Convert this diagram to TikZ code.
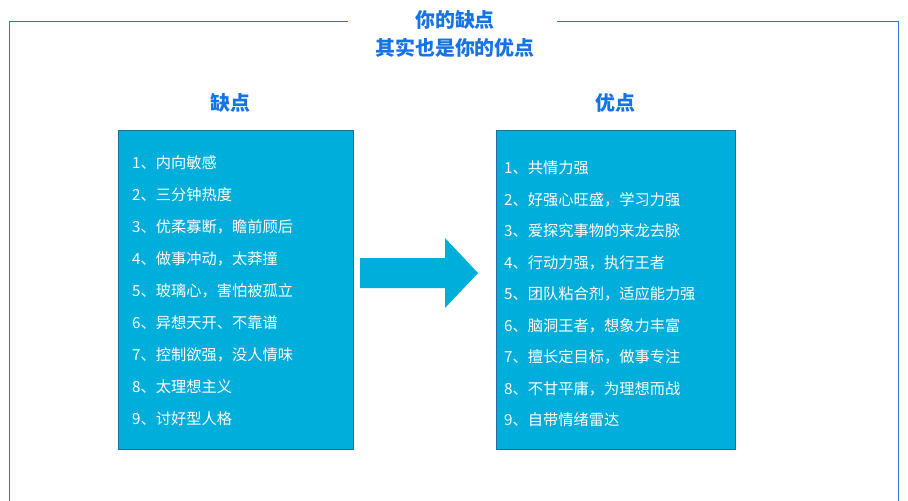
\documentclass[tikz,border=0pt]{standalone}
\usepackage{fontspec}
\setmainfont{Noto Sans CJK SC}
\usetikzlibrary{shapes.arrows}
\definecolor{frameblue}{HTML}{1E7BD6}
\definecolor{titleblue}{HTML}{1473E6}
\definecolor{boxcyan}{HTML}{00AEDB}
\definecolor{boxline}{HTML}{1A6FA0}
\begin{document}
\begin{tikzpicture}[x=0.03cm,y=-0.03cm]
\tikzset{
  headline/.style={text=titleblue,font=\fontsize{17}{20}\selectfont\bfseries},
  listbox/.style={fill=boxcyan,draw=boxline,line width=0.6pt},
  item/.style={text=white,anchor=west,inner sep=0pt,font=\fontsize{13}{15}\selectfont}
}
\useasboundingbox (0,0) rectangle (908,500);
% frame
\draw [frameblue,line width=0.8pt] (348,21) -- (9,21) -- (9,520);
\draw [frameblue,line width=0.8pt] (557,21) -- (898,21) -- (898,520);
\node [headline] (t1) at (455,20) {你的缺点};
\node [headline] (t2) at (455,48) {其实也是你的优点};
% headings
\node [headline] (hl) at (230,103) {缺点};
\node [headline] (hr) at (615,103) {优点};
% boxes
\draw [listbox] (118,130) rectangle (353,449);
\draw [listbox] (496,130) rectangle (735,449);
% arrow
\fill [boxcyan] (360,258) -- (445,258) -- (445,238) -- (478,273) -- (445,308) -- (445,288) -- (360,288) -- cycle;
% left list
\foreach \t [count=\i] in {内向敏感,三分钟热度,{优柔寡断，瞻前顾后},{做事冲动，太莽撞},{玻璃心，害怕被孤立},异想天开、不靠谱,{控制欲强，没人情味},太理想主义,讨好型人格}
  \node [item] (l\i) at (132,163+32*\i-32) {\i、\t};
% right list
\foreach \t [count=\i] in {共情力强,{好强心旺盛，学习力强},爱探究事物的来龙去脉,{行动力强，执行王者},{团队粘合剂，适应能力强},{脑洞王者，想象力丰富},{擅长定目标，做事专注},{不甘平庸，为理想而战},自带情绪雷达}
  \node [item] (r\i) at (504,168+31.5*\i-31.5) {\i、\t};
\end{tikzpicture}
\end{document}
